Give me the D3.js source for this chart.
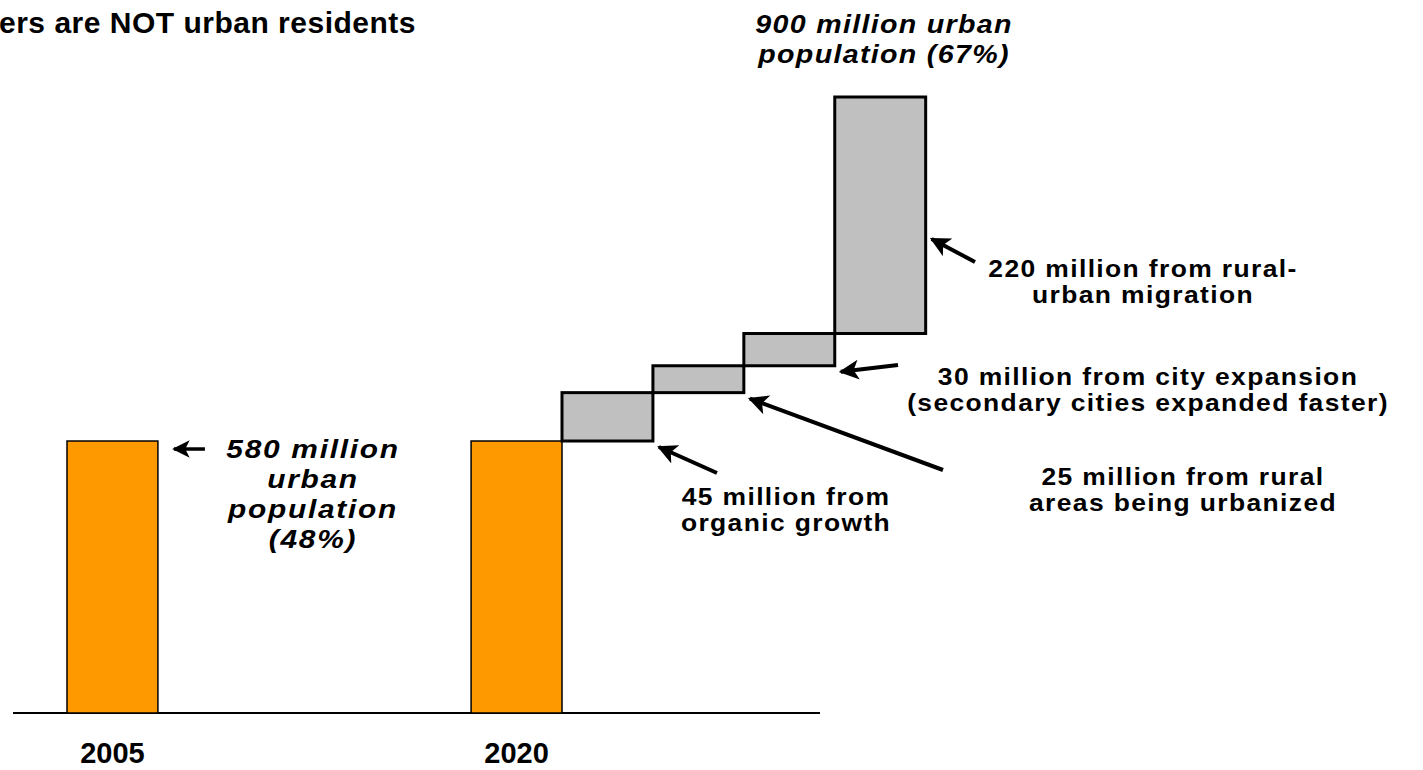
<!DOCTYPE html>
<html>
<head>
<meta charset="utf-8">
<script src="https://cdn.jsdelivr.net/npm/d3@7"></script>
<style>
  html, body { margin: 0; padding: 0; background: #fff; }
  svg { display: block; }
  text { font-family: "Liberation Sans", Arial, Helvetica, sans-serif; font-weight: bold; fill: #000; }
</style>
</head>
<body>
<svg id="chart" width="1423" height="770"></svg>
<script>
// ---- data ----
const years = ["2005", "2020"];
const baseValues = [580, 580];           // urban population (million) shown as orange bars
const components = ["organic growth", "rural areas being urbanized", "city expansion", "rural-urban migration"];
const componentValues = [45, 25, 30, 220]; // million, stacked as waterfall on top of 2020 base
const totalValue = 900;
const titleText = "ers are NOT urban residents";
const baseLabel = ["580 million", "urban", "population", "(48%)"];
const totalLabel = ["900 million urban", "population (67%)"];
const componentLabels = [
  ["45 million from", "organic growth"],
  ["25 million from rural", "areas being urbanized"],
  ["30 million from city expansion", "(secondary cities expanded faster)"],
  ["220 million from rural-", "urban migration"]
];

// ---- layout ----
const svg = d3.select("#chart");
const baselineY = 713;

const x = d3.scaleBand().domain(years).range([67, 562]).paddingInner(0.775).paddingOuter(0);
const bw = x.bandwidth();
const y = d3.scaleLinear().domain([327, totalValue]).range([baselineY, 97]);

// waterfall cumulative
let cum = baseValues[1];
const steps = componentValues.map((v, i) => {
  const s = { i, v, name: components[i], y0: cum, y1: cum + v, x0: x("2020") + bw * (i + 1) };
  cum += v;
  return s;
});

// title
svg.append("text").attr("x", -1).attr("y", 33).style("font-size", "30px").style("letter-spacing", "0.5px").text(titleText);

// axis baseline
svg.append("line").attr("x1", 13).attr("x2", 820).attr("y1", baselineY).attr("y2", baselineY)
  .attr("stroke", "#000").attr("stroke-width", 2);

// orange bars
svg.selectAll("rect.base").data(years).join("rect").attr("class", "base")
  .attr("x", d => x(d)).attr("width", bw)
  .attr("y", (d, i) => y(baseValues[i])).attr("height", (d, i) => baselineY - y(baseValues[i]))
  .attr("fill", "#FF9900").attr("stroke", "#000").attr("stroke-width", 1.5);

// grey steps
svg.selectAll("rect.step").data(steps).join("rect").attr("class", "step")
  .attr("x", d => d.x0).attr("width", bw)
  .attr("y", d => y(d.y1)).attr("height", d => y(d.y0) - y(d.y1))
  .attr("fill", "#C0C0C0").attr("stroke", "#000").attr("stroke-width", 3);

// year labels
svg.selectAll("text.year").data(years).join("text").attr("class", "year")
  .attr("x", d => x(d) + bw / 2).attr("y", 763).attr("text-anchor", "middle")
  .style("font-size", "29px").text(d => d);

// arrow marker
const defs = svg.append("defs");
defs.append("marker").attr("id", "ah").attr("viewBox", "0 0 10 10").attr("refX", 9).attr("refY", 5)
  .attr("markerWidth", 5).attr("markerHeight", 5).attr("markerUnits", "strokeWidth").attr("orient", "auto")
  .append("path").attr("d", "M0,0 L10,5 L0,10 L2.5,5 Z").attr("fill", "#000");

function arrow(x1, y1, x2, y2, w) {
  svg.append("line").attr("x1", x1).attr("y1", y1).attr("x2", x2).attr("y2", y2)
    .attr("stroke", "#000").attr("stroke-width", w || 4).attr("marker-end", "url(#ah)");
}

function multiline(lines, cx, by, lh, size, italic, ls, sx) {
  const t = svg.append("text").attr("text-anchor", "middle")
    .attr("transform", `translate(${cx},${by}) scale(${sx || 1},1)`)
    .style("font-size", size + "px")
    .style("font-style", italic ? "italic" : "normal").style("letter-spacing", (ls || 0) + "px");
  lines.forEach((l, k) => t.append("tspan").attr("x", 0).attr("y", k * lh).text(l));
}

// base label with arrow
const b2005 = x("2005") + bw;
arrow(b2005 + 47, y(baseValues[0]) + 8, b2005 + 16, y(baseValues[0]) + 8, 3.5);
multiline(baseLabel, 313, 458, 30, 26, true, 1.5, 1.15);

// total label
multiline(totalLabel, 884, 33, 30, 26, true, 1.2, 1.1);

// component labels and arrows
const labelPos = [
  { cx: 786, by: 504.5, tail: [717, 473] },
  { cx: 1183, by: 485, tail: [943, 470] },
  { cx: 1148, by: 385, tail: [898, 365] },
  { cx: 1143, by: 277, tail: [975, 262] }
];
steps.forEach((s, i) => {
  const p = labelPos[i];
  multiline(componentLabels[i], p.cx, p.by, 26.5, 23, false, 1.2, 1.15);
  const hx = s.x0 + bw + 6;
  const hy = i === 3 ? y(s.y1) + 0.6 * (y(s.y0) - y(s.y1)) : y(s.y0) + 6;
  arrow(p.tail[0], p.tail[1], hx, hy, 4);
});
</script>
</body>
</html>
